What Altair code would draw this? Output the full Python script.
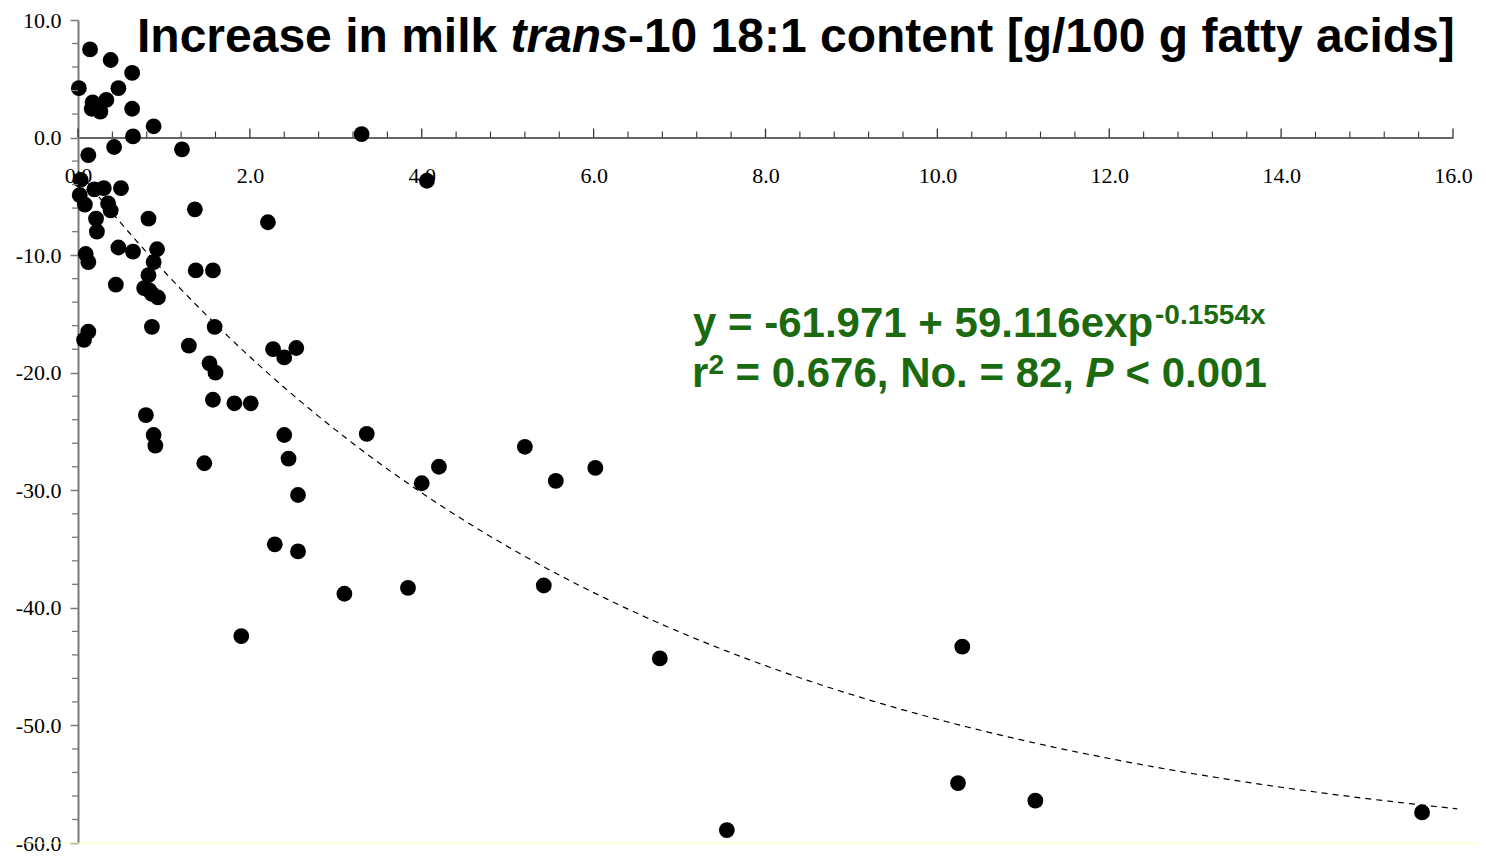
import altair as alt
import pandas as pd

# ---- data ----
x_vals = [0.01, 0.14, 0.38, 0.63, 0.47, 0.33, 0.17, 0.16, 0.26, 0.63,
          0.88, 0.64, 3.30, 0.42, 1.21, 0.12, 0.03, 0.19, 0.30, 0.50,
          0.02, 0.08, 0.35, 0.38, 1.36, 0.82, 0.21, 0.22, 2.21, 0.47,
          0.64, 0.92, 0.09, 0.12, 0.88, 1.37, 1.57, 0.82, 0.44, 0.77,
          0.86, 0.93, 0.86, 1.59, 0.12, 0.07, 1.29, 2.27, 2.54, 2.40,
          1.53, 1.60, 1.57, 1.82, 2.01, 0.79, 3.36, 0.88, 2.40, 0.90,
          2.45, 1.47, 2.56, 2.29, 2.56, 3.10, 1.90, 4.06, 3.84, 4.00,
          4.20, 5.20, 5.56, 6.02, 5.42, 6.77, 7.55, 10.29, 10.24, 11.14,
          15.64, 0.83]
y_vals = [4.2, 7.5, 6.6, 5.5, 4.2, 3.2, 3.0, 2.45, 2.2, 2.45,
          0.96, 0.1, 0.3, -0.8, -1.0, -1.5, -3.6, -4.4, -4.3, -4.3,
          -4.9, -5.7, -5.6, -6.2, -6.1, -6.9, -6.9, -8.0, -7.2, -9.35,
          -9.7, -9.5, -9.9, -10.6, -10.6, -11.3, -11.3, -11.7, -12.5, -12.8,
          -13.3, -13.6, -16.1, -16.1, -16.5, -17.2, -17.7, -18.0, -17.9, -18.7,
          -19.2, -20.0, -22.3, -22.6, -22.6, -23.6, -25.2, -25.3, -25.3, -26.2,
          -27.3, -27.7, -30.4, -34.6, -35.2, -38.8, -42.4, -3.67, -38.3, -29.4,
          -28.0, -26.3, -29.2, -28.1, -38.1, -44.3, -58.9, -43.3, -54.9, -56.4,
          -57.4, -13.0]

# fitted model printed on the chart
fit_a, fit_b, fit_k = -61.971, 59.116, -0.1554

x_major = [0, 2, 4, 6, 8, 10, 12, 14, 16]
x_minor = [0.4, 0.8, 1.2, 1.6, 2.4, 2.8, 3.2, 3.6, 4.4, 4.8, 5.2, 5.6,
           6.4, 6.8, 7.2, 7.6, 8.4, 8.8, 9.2, 9.6, 10.4, 10.8, 11.2, 11.6,
           12.4, 12.8, 13.2, 13.6, 14.4, 14.8, 15.2, 15.6]
y_major = [-60, -50, -40, -30, -20, -10, 0, 10]
y_minor = [-58, -56, -54, -52, -48, -46, -44, -42, -38, -36, -34, -32,
           -28, -26, -24, -22, -18, -16, -14, -12, -8, -6, -4, -2,
           2, 4, 6, 8]

# ---- layout ----
W, H = 1375, 823
Y0 = H * 10 / 70  # pixel row of y = 0
GREEN = "#1b6a10"
SANS = "Liberation Sans"
SERIF = "Liberation Serif"
LABEL_EXPR = "replace(format(datum.value, '.1f'), '\u2212', '-')"

xs = alt.Scale(domain=[0, 16], nice=False, zero=False)
ys = alt.Scale(domain=[-60, 10], nice=False, zero=False)

AX_X = alt.Axis(
    orient="bottom", offset=-(H - Y0), values=x_major, labelExpr=LABEL_EXPR,
    ticks=False, labelPadding=38, labelBaseline="middle",
    labelFont=SERIF, labelFontSize=22, labelColor="black",
    labelFlush=False, labelOverlap=False,
    domainColor="#333333", domainWidth=1.5, grid=False, title=None)
AX_Y = alt.Axis(
    orient="left", values=y_major, labelExpr=LABEL_EXPR,
    tickSize=8, tickColor="#7a7a7a", tickWidth=1.5,
    labelPadding=9, labelFont=SERIF, labelFontSize=22, labelColor="black",
    labelFlush=False, labelOverlap=False,
    domainColor="#7a7a7a", domainWidth=2, grid=False, title=None)

pts = pd.DataFrame({"x": x_vals, "y": y_vals})

points = alt.Chart(pts).mark_circle(size=250, color="black", opacity=1).encode(
    x=alt.X("x:Q", scale=xs, axis=AX_X),
    y=alt.Y("y:Q", scale=ys, axis=AX_Y),
)

fit = (
    alt.Chart(alt.sequence(0, 16.06, 0.05, as_="x"))
    .transform_calculate(y=f"{fit_a} + {fit_b} * exp({fit_k} * datum.x)")
    .mark_line(color="black", strokeWidth=1.2, strokeDash=[6, 5])
    .encode(x=alt.X("x:Q", scale=xs, axis=AX_X),
            y=alt.Y("y:Q", scale=ys, axis=AX_Y))
)

x_maj_ticks = alt.Chart(pd.DataFrame({"x": x_major})).mark_rule(
    color="#333333", strokeWidth=1.3).encode(
    x=alt.X("x:Q", scale=xs, axis=AX_X),
    y=alt.value(Y0 - 9), y2=alt.value(Y0))
x_min_ticks = alt.Chart(pd.DataFrame({"x": x_minor})).mark_rule(
    color="#333333", strokeWidth=1.1).encode(
    x=alt.X("x:Q", scale=xs, axis=AX_X),
    y=alt.value(Y0 - 6), y2=alt.value(Y0))
y_min_ticks = alt.Chart(pd.DataFrame({"y": y_minor})).mark_rule(
    color="#7a7a7a", strokeWidth=1.3).encode(
    y=alt.Y("y:Q", scale=ys, axis=AX_Y),
    x=alt.value(-6), x2=alt.value(0))

bottom_line = alt.Chart(pd.DataFrame({"y": [-60]})).mark_rule(
    color="#ffffb8", strokeWidth=1).encode(
    y=alt.Y("y:Q", scale=ys, axis=AX_Y),
    x=alt.value(-70), x2=alt.value(W + 25))


def txt(s, x, y, size, color="black", style="normal", weight="bold",
        font=SANS):
    return alt.Chart(alt.Data(values=[{"k": 1}])).mark_text(
        text=s, align="left", baseline="alphabetic", font=font,
        fontSize=size, fontWeight=weight, fontStyle=style, color=color
    ).encode(x=alt.value(x), y=alt.value(y))


title_parts = [
    txt("Increase in milk", 59, 32, 48),
    txt("trans", 432.5, 32, 48, style="italic"),
    txt("-10 18:1 content [g/100 g fatty acids]", 549.9, 32, 48),
]
eq_parts = [
    txt("y = -61.971 + 59.116exp", 615, 317, 42, GREEN),
    txt("-0.1554x", 1077, 304, 28, GREEN),
    txt("r", 614, 367, 42, GREEN),
    txt("2", 630.5, 354, 28, GREEN),
    txt("= 0.676, No. = 82,", 657.5, 367, 42, GREEN),
    txt("P", 1007.5, 367, 42, GREEN, style="italic"),
    txt("< 0.001", 1047.5, 367, 42, GREEN),
]

chart = alt.layer(
    points, fit, bottom_line, y_min_ticks, x_min_ticks, x_maj_ticks,
    *title_parts, *eq_parts
).properties(
    width=W, height=H,
    autosize=alt.AutoSizeParams(type="none"),
    padding={"left": 70, "top": 12, "right": 25, "bottom": 12},
    background="white",
).configure_view(stroke=None)

chart.save("out.html", embed_options={"renderer": "svg", "actions": False})
